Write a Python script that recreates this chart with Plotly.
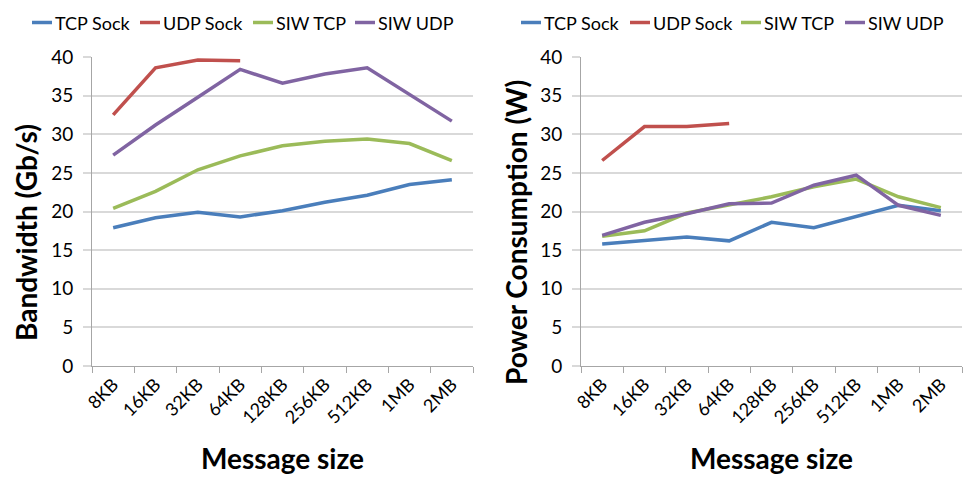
import plotly.graph_objects as go
from plotly.subplots import make_subplots

categories = ["8KB", "16KB", "32KB", "64KB", "128KB", "256KB", "512KB", "1MB", "2MB"]
series_names = ["TCP Sock", "UDP Sock", "SIW TCP", "SIW UDP"]
colors = ["#4A7EBB", "#C0504D", "#9BBB59", "#8064A2"]

bw_tcp_sock = [17.9, 19.2, 19.9, 19.3, 20.1, 21.2, 22.1, 23.5, 24.1]
bw_udp_sock = [32.5, 38.6, 39.6, 39.5]
bw_siw_tcp = [20.4, 22.6, 25.4, 27.2, 28.5, 29.1, 29.4, 28.8, 26.6]
bw_siw_udp = [27.3, 31.2, 34.8, 38.4, 36.6, 37.8, 38.6, 35.2, 31.7]

pw_tcp_sock = [15.8, 16.2, 16.7, 16.2, 18.6, 17.9, 19.3, 20.8, 20.1]
pw_udp_sock = [26.6, 31.0, 31.0, 31.4]
pw_siw_tcp = [16.8, 17.5, 19.8, 20.8, 21.9, 23.2, 24.2, 21.9, 20.5]
pw_siw_udp = [16.9, 18.6, 19.7, 21.0, 21.1, 23.4, 24.7, 20.8, 19.5]

y_ticks = [0, 5, 10, 15, 20, 25, 30, 35, 40]

FONT = "Lato"
W, H = 969, 482
M_T, M_B = 57, 116
PLOT_H = H - M_T - M_B

fig = make_subplots(rows=1, cols=2)

left = [bw_tcp_sock, bw_udp_sock, bw_siw_tcp, bw_siw_udp]
right = [pw_tcp_sock, pw_udp_sock, pw_siw_tcp, pw_siw_udp]

for name, col, vals in zip(series_names, colors, left):
    fig.add_trace(go.Scatter(x=categories[:len(vals)], y=vals, mode="lines", name=name,
                             line=dict(color=col, width=3.5), showlegend=False), row=1, col=1)
for name, col, vals in zip(series_names, colors, right):
    fig.add_trace(go.Scatter(x=categories[:len(vals)], y=vals, mode="lines", name=name,
                             line=dict(color=col, width=3.5), showlegend=False), row=1, col=2)

xaxis_common = dict(
    type="category", categoryorder="array", categoryarray=categories,
    range=[-0.5, len(categories) - 0.5],
    showgrid=False, showline=True, linecolor="#A6A6A6", linewidth=1,
    ticks="outside", tickson="boundaries", ticklen=6, tickcolor="#A6A6A6",
    tickangle=-45, tickfont=dict(family=FONT, size=18, color="#000"),
    title=dict(text="<b>Message size</b>", font=dict(family=FONT, size=28, color="#000"), standoff=22),
    zeroline=False, automargin=False,
)
yaxis_common = dict(
    range=[0, 40], tickvals=y_ticks, showgrid=True, gridcolor="#D9D9D9", gridwidth=1.5,
    showline=True, linecolor="#A6A6A6", linewidth=1, ticks="outside", ticklen=8, tickcolor="#D9D9D9",
    tickwidth=1.5, ticklabelstandoff=6,
    tickfont=dict(family=FONT, size=19, color="#000"), zeroline=False, automargin=False,
)

fig.update_xaxes(**xaxis_common)
fig.update_yaxes(**yaxis_common)
fig.update_xaxes(domain=[92 / W, 473 / W], row=1, col=1)
fig.update_xaxes(domain=[581 / W, 962 / W], row=1, col=2)


def py(p):
    return (H - M_B - p) / PLOT_H


# y-axis titles (Excel-style placement)
y_titles = [("<b>Bandwidth (Gb/s)</b>", 26), ("<b>Power Consumption (W)</b>", 516)]
for text, xp in y_titles:
    fig.add_annotation(text=text, xref="paper", yref="paper", x=xp / W, y=py(233),
                       textangle=-90, showarrow=False, xanchor="center", yanchor="middle",
                       font=dict(family=FONT, size=28, color="#000"))

# legends (one above each chart)
legend_rows = [[32, 140, 253, 355], [521, 630, 741, 845]]
ly = py(22.5)
for starts in legend_rows:
    for name, col, xs in zip(series_names, colors, starts):
        fig.add_shape(type="line", xref="paper", yref="paper", x0=xs / W, x1=(xs + 20) / W,
                      y0=ly, y1=ly, line=dict(color=col, width=3.5))
        fig.add_annotation(text=name, xref="paper", yref="paper", x=(xs + 21) / W, y=ly,
                           xanchor="left", yanchor="middle", showarrow=False,
                           font=dict(family=FONT, size=18, color="#000"))

fig.update_layout(
    width=W, height=H,
    margin=dict(l=0, r=0, t=M_T, b=M_B, autoexpand=False),
    paper_bgcolor="white", plot_bgcolor="white",
    showlegend=False,
)

fig.write_html("out.html")
